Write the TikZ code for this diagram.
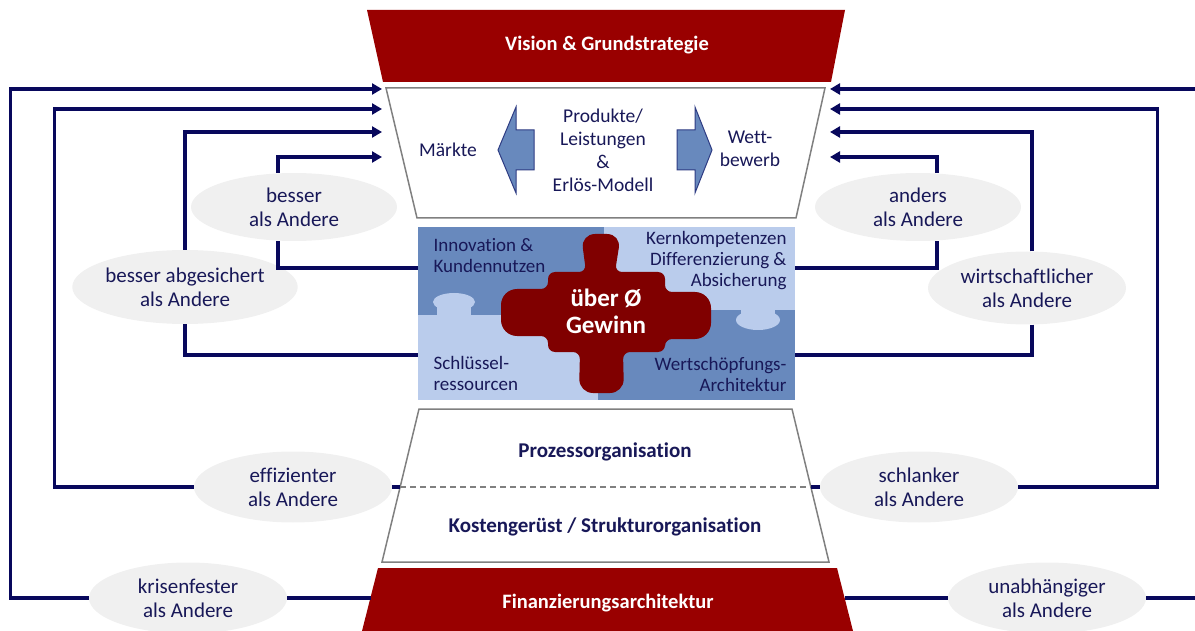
\documentclass[tikz,border=0pt]{standalone}
\usepackage{fontspec}
\setmainfont{Carlito}[Ligatures=NoCommon]
\usetikzlibrary{arrows.meta,shapes.geometric}

\definecolor{navy}{RGB}{8,8,92}
\definecolor{inknavy}{RGB}{24,24,88}
\definecolor{strategyred}{RGB}{153,0,0}
\definecolor{profitred}{RGB}{128,0,0}
\definecolor{puzzledark}{RGB}{104,137,189}
\definecolor{puzzlelight}{RGB}{186,204,236}
\definecolor{bubblegrey}{RGB}{240,240,240}
\definecolor{framegrey}{RGB}{128,128,128}

\begin{document}
\begin{tikzpicture}[
  x=1pt, y=-1pt,
  font=\fontsize{21}{24}\selectfont,
  loop/.style={draw=navy, line width=3.2pt},
  into/.style={loop, -{Triangle[length=10pt,width=11pt]}},
  bubble/.style={ellipse, fill=bubblegrey, text=inknavy, align=center, minimum width=198pt, minimum height=71pt, inner sep=0pt},
  bandtext/.style={text=white, font=\fontsize{20.5}{24}\selectfont\bfseries},
  layer/.style={draw=framegrey, line width=1.5pt, fill=white},
  layertext/.style={text=inknavy, font=\fontsize{21}{24}\selectfont\bfseries},
  field/.style={text=inknavy, font=\fontsize{19.5}{23}\selectfont, align=center},
  piece/.style={text=inknavy, font=\fontsize{19}{21}\selectfont},
  push/.style={fill=puzzledark, draw=navy!60!puzzledark, line width=1pt}
]

\useasboundingbox (0,0) rectangle (1195,631);

\fill[strategyred] (367,10) -- (845,10) -- (831,82) -- (383,82) -- cycle;
\node[bandtext] (vision) at (607,45) {Vision \& Grundstrategie};

\draw[layer] (386,88) -- (825,88) -- (796,218) -- (417,218) -- cycle;
\node[field] (maerkte) at (448,150) {Märkte};
\node[field] (produkte) at (603,150) {Produkte/\\Leistungen\\\&\\Erlös-Modell};
\node[field] (wettbewerb) at (750,149) {Wett-\\bewerb};
\filldraw[push] (498,150) -- (516,107) -- (516,130) -- (534,130) -- (534,170) -- (516,170) -- (516,193) -- cycle;
\filldraw[push] (712,150) -- (695,107) -- (695,130) -- (677,130) -- (677,170) -- (695,170) -- (695,193) -- cycle;

\fill[puzzlelight] (418,227) rectangle (795,400);
\fill[puzzledark] (418,227) rectangle (604,315);
\fill[puzzledark] (598,310) rectangle (795,400);
\fill[puzzlelight] (454,302) ellipse [x radius=21pt, y radius=9pt];
\fill[puzzlelight] (437,302) rectangle (471,316);
\fill[puzzlelight] (758,320) ellipse [x radius=22pt, y radius=10pt];
\fill[puzzlelight] (741,309) rectangle (775,320);
\fill[profitred, rounded corners=7pt] (548,272) -- (586,272) [rounded corners=14pt] -- (581,234) -- (621,234)
  [rounded corners=7pt] -- (615,272) -- (665,272) -- (665,292) [rounded corners=16pt] -- (711,292) -- (711,339)
  [rounded corners=7pt] -- (665,339) -- (665,352) -- (623,352) [rounded corners=14pt] -- (624,393) -- (579,393)
  [rounded corners=7pt] -- (580,352) -- (548,352) -- (548,336) [rounded corners=16pt] -- (501,336) -- (501,289)
  [rounded corners=7pt] -- (548,289) -- cycle;
\node[bandtext, font=\fontsize{25}{27}\selectfont\bfseries, align=center] (gewinn) at (606,311) {über Ø\\Gewinn};
\node[piece, anchor=west, align=left] (innovation) at (430,256) {Innovation \&\\Kundennutzen};
\node[piece, anchor=east, align=right] (kern) at (790,261) {Kernkompetenzen\\Differenzierung \&\\Absicherung};
\node[piece, anchor=west, align=left] (schluessel) at (430,373) {Schlüssel-\\ressourcen};
\node[piece, anchor=east, align=right] (wertschoepfung) at (790,374) {Wertschöpfungs-\\Architektur};

\draw[layer] (419,409) -- (792,409) -- (829,562) -- (382,562) -- cycle;
\coordinate (procL) at (400,487);
\coordinate (procR) at (811,487);
\draw[framegrey, line width=1.5pt, dash pattern=on 6pt off 4pt] (procL) -- (procR);
\node[layertext] (prozess) at (605,452) {Prozessorganisation};
\node[layertext] (kosten) at (605,527) {Kostengerüst / Strukturorganisation};

\fill[strategyred] (378,568) -- (837,568) -- (853,631) -- (362,631) -- cycle;
\node[bandtext] (finanz) at (608,603) {Finanzierungsarchitektur};

\foreach \i/\y in {1/89,2/109,3/132,4/157} {
  \coordinate (inL\i) at (382,\y);
  \coordinate (inR\i) at (830,\y);
}
\coordinate (puzL1) at (418,268);
\coordinate (puzL2) at (418,355);
\coordinate (puzR1) at (795,268);
\coordinate (puzR2) at (795,355);
\coordinate (finL) at (371,598);
\coordinate (finR) at (845,598);

\node[bubble, minimum width=206pt, minimum height=68pt] (besser) at (294,207) {besser\\als Andere};
\node[bubble, minimum width=205pt, minimum height=74pt] (abgesichert) at (185,287) {besser abgesichert\\als Andere};
\node[bubble] (effizienter) at (293,487) {effizienter\\als Andere};
\node[bubble] (krisenfester) at (188,598) {krisenfester\\als Andere};
\node[bubble, minimum width=206pt, minimum height=68pt] (anders) at (918,207) {anders\\als Andere};
\node[bubble, minimum height=73pt] (wirtschaftlicher) at (1027,288) {wirtschaftlicher\\als Andere};
\node[bubble] (schlanker) at (919,487) {schlanker\\als Andere};
\node[bubble] (unabhaengiger) at (1047,598) {unabhängiger\\als Andere};

\draw[into] (krisenfester.west) -- ++(-78,0) |- (inL1);
\draw[loop] (krisenfester.east) -- (finL);
\draw[into] (effizienter.west) -- ++(-139,0) |- (inL2);
\draw[loop] (effizienter.east) -- (procL);
\draw[into] (abgesichert.north) |- (inL3);
\draw[loop] (abgesichert.south) |- (puzL2);
\draw[into] ([xshift=-16pt]besser.north) |- (inL4);
\draw[loop] ([xshift=-16pt]besser.south) |- (puzL1);

\draw[into] (unabhaengiger.east) -- ++(60,0) |- (inR1);
\draw[loop] (unabhaengiger.west) -- (finR);
\draw[into] (schlanker.east) -- ++(139,0) |- (inR2);
\draw[loop] (schlanker.west) -- (procR);
\draw[into] ([xshift=5pt]wirtschaftlicher.north) |- (inR3);
\draw[loop] ([xshift=5pt]wirtschaftlicher.south) |- (puzR2);
\draw[into] ([xshift=19pt]anders.north) |- (inR4);
\draw[loop] ([xshift=19pt]anders.south) |- (puzR1);

\end{tikzpicture}
\end{document}
